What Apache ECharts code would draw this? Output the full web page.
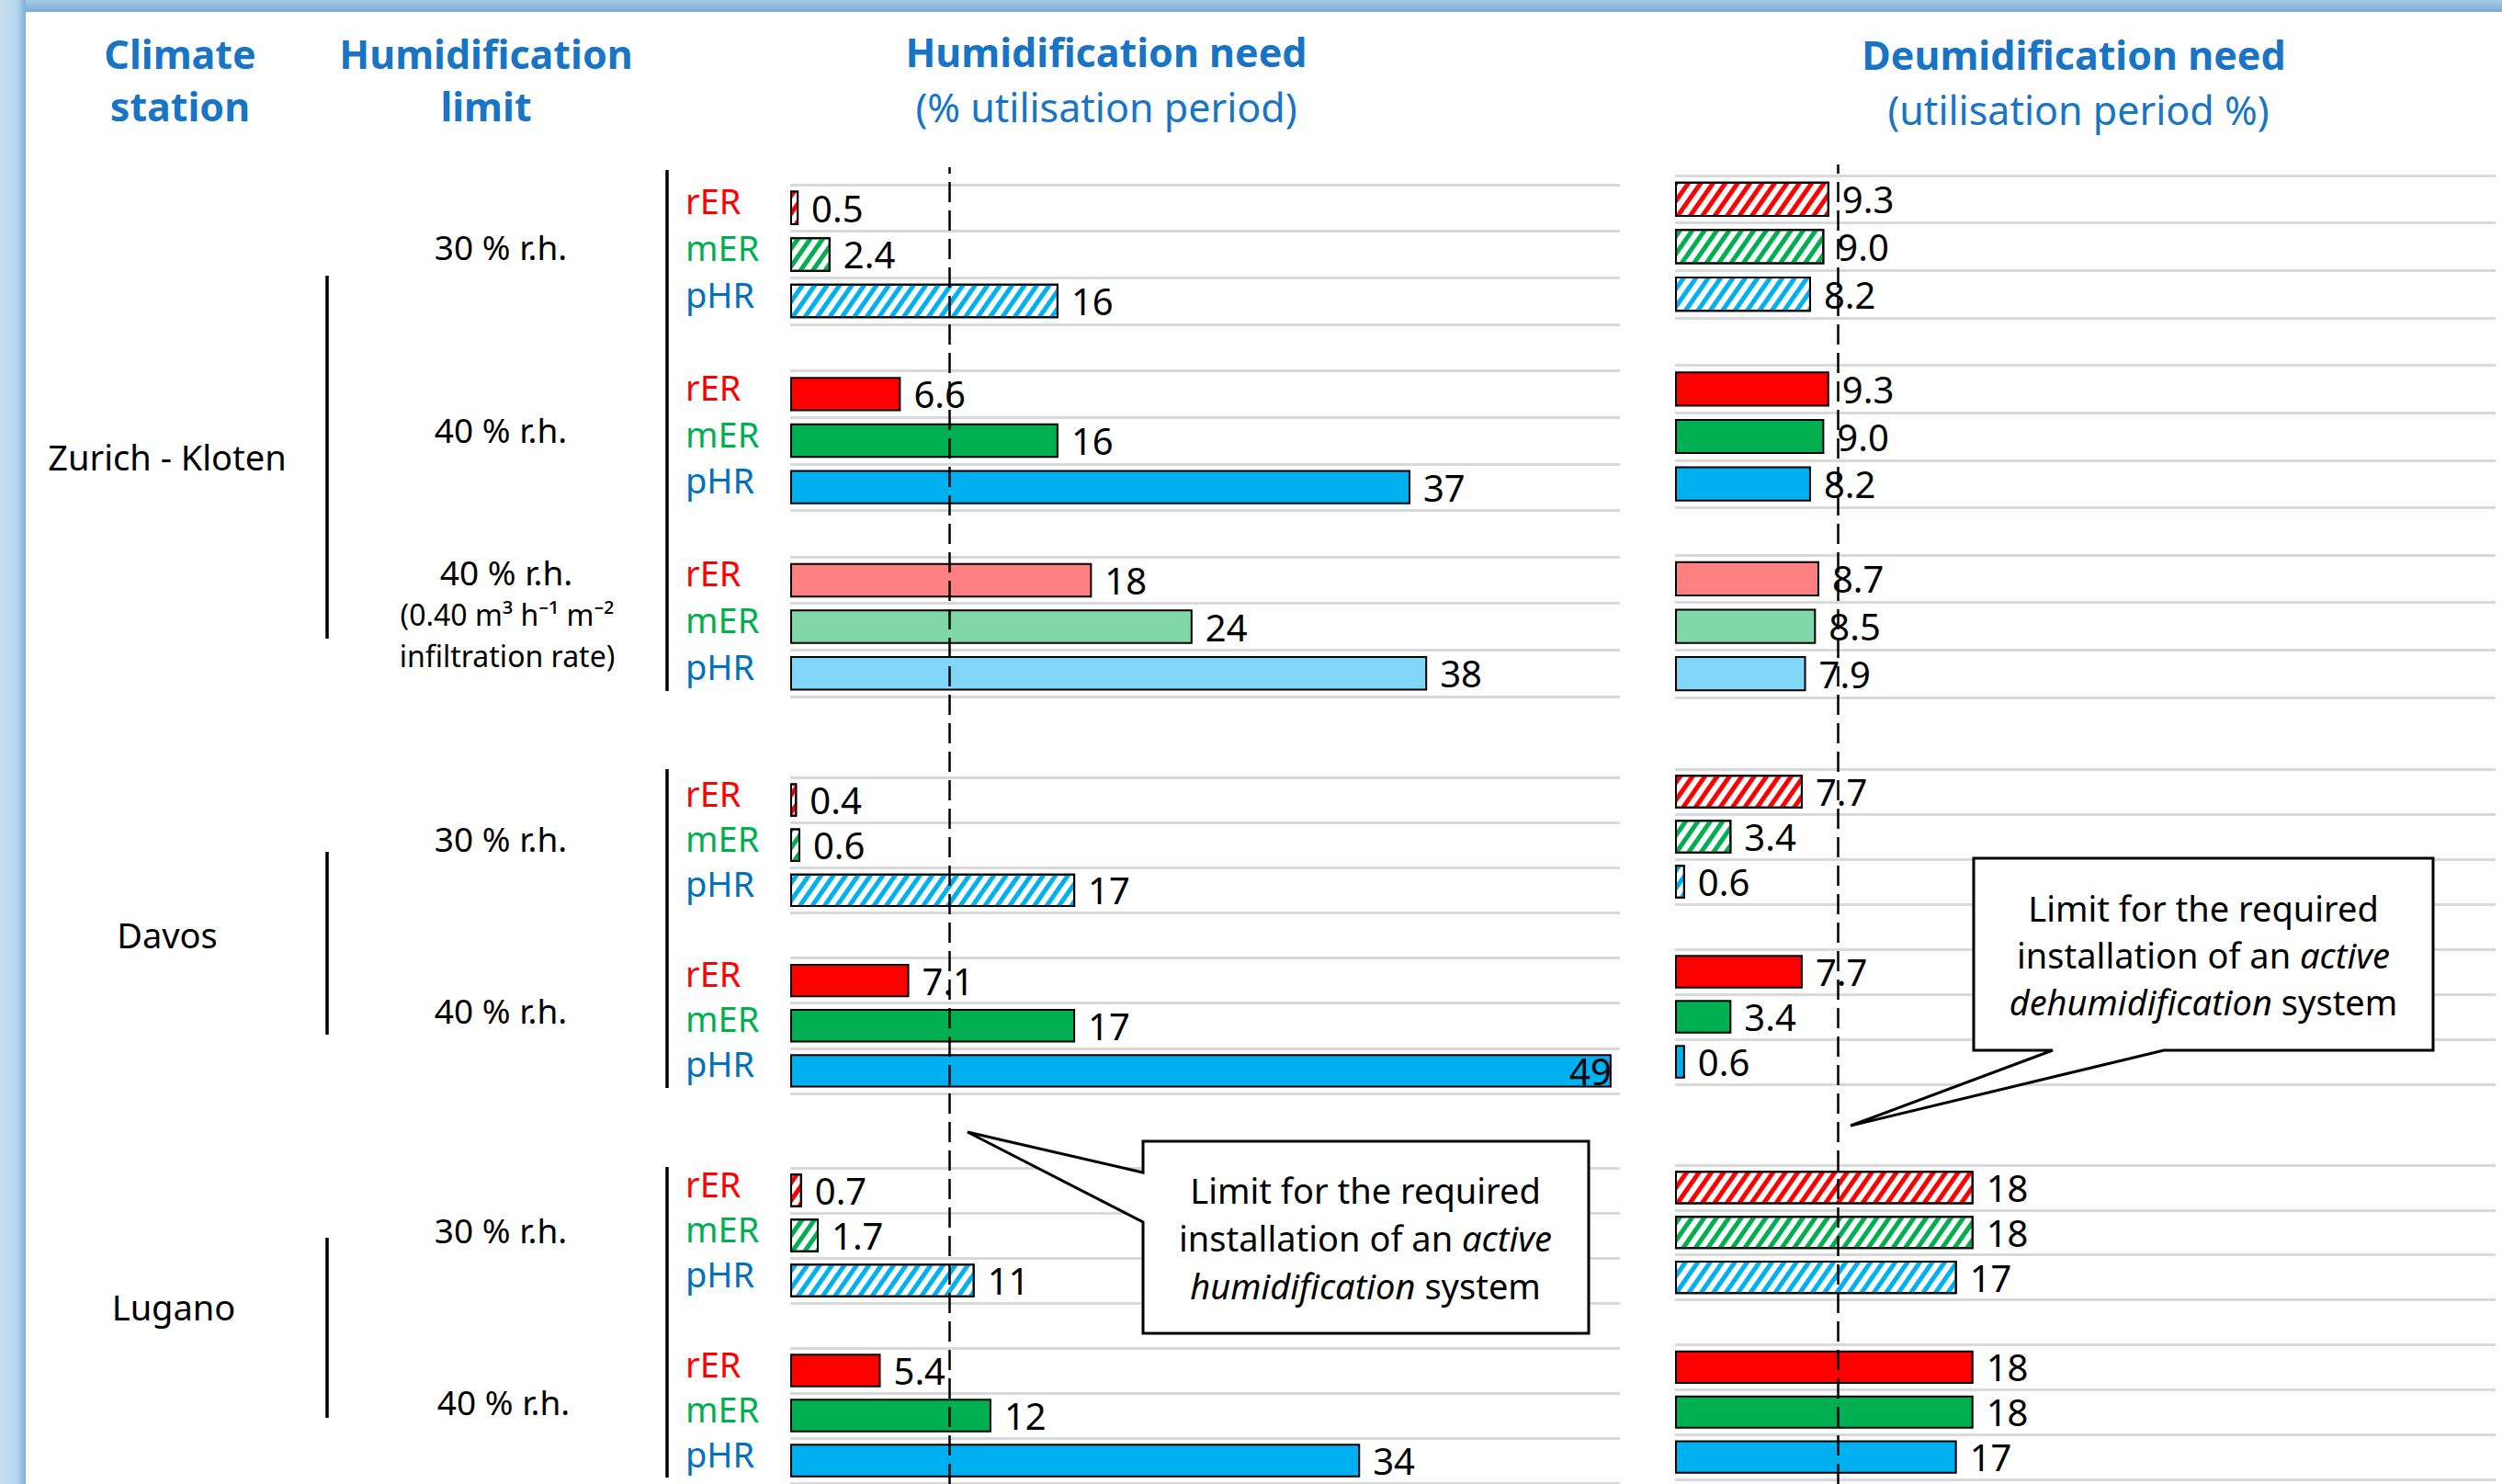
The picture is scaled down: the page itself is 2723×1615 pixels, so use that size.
<!DOCTYPE html>
<html>
<head>
<meta charset="utf-8">
<title>Humidification and dehumidification need</title>
<script src="https://cdn.jsdelivr.net/npm/echarts@6/dist/echarts.min.js"></script>
<style>
  html, body { margin: 0; padding: 0; background: #ffffff; }
  #chart { width: 2723px; height: 1615px; }
</style>
</head>
<body>
<div id="chart"></div>
<script>
// Systems compared inside each humidification-limit block
const systems = ['rER', 'mER', 'pHR'];
const stations = ['Zurich - Kloten', 'Davos', 'Lugano'];

// Humidification need (% of utilisation period)
const humZurich30 = [0.5, 2.4, 16];
const humZurich40 = [6.6, 16, 37];
const humZurich40Inf = [18, 24, 38];
const humDavos30 = [0.4, 0.6, 17];
const humDavos40 = [7.1, 17, 49];
const humLugano30 = [0.7, 1.7, 11];
const humLugano40 = [5.4, 12, 34];

// Dehumidification need (% of utilisation period)
const dehZurich30 = [9.3, 9.0, 8.2];
const dehZurich40 = [9.3, 9.0, 8.2];
const dehZurich40Inf = [8.7, 8.5, 7.9];
const dehDavos30 = [7.7, 3.4, 0.6];
const dehDavos40 = [7.7, 3.4, 0.6];
const dehLugano30 = [18, 18, 17];
const dehLugano40 = [18, 18, 17];

// Limits above which an active system is required
const humLimit = 9.5;
const dehumLimit = 9.8;
const xMax = 49.5;

// Block structure: 30 % r.h. (hatched), 40 % r.h. (solid), 40 % r.h. with infiltration (light)
const stationBlocks = [
  { kinds: ['hatch', 'solid', 'light'], hum: [humZurich30, humZurich40, humZurich40Inf], deh: [dehZurich30, dehZurich40, dehZurich40Inf] },
  { kinds: ['hatch', 'solid'], hum: [humDavos30, humDavos40], deh: [dehDavos30, dehDavos40] },
  { kinds: ['hatch', 'solid'], hum: [humLugano30, humLugano40], deh: [dehLugano30, dehLugano40] }
];

const F = "'Noto Sans', 'DejaVu Sans', sans-serif";
const HEAD = '#1874C4';
const solidColors = ['#FF0000', '#00B050', '#00B0F0'];
const lightColors = ['#FF8080', '#80D7A8', '#80D7F7'];
const labelColors = ['#FF0000', '#00B050', '#0070C0'];

const panels = {
  hum: { key: 'hum', left: 860, width: 903, limit: humLimit, limitTop: 182, labels: true,
         rows: [[201, 557], [846, 344], [1271, 343]] },
  deh: { key: 'deh', left: 1823, width: 893, limit: dehumLimit, limitTop: 179, labels: false,
         rows: [[191, 568], [837, 343], [1268, 342]] }
};

function fmt(v) { return v < 10 ? v.toFixed(1) : String(Math.round(v)); }

function makeItem(value, kind, j) {
  const item = { value: value };
  if (kind === 'hatch') {
    item.itemStyle = {
      color: '#ffffff',
      decal: {
        symbol: 'rect', symbolSize: 1,
        dashArrayX: [1, 0], dashArrayY: [5, 6],
        rotation: -Math.PI * 55 / 180,
        color: solidColors[j]
      }
    };
  } else {
    item.itemStyle = { color: kind === 'solid' ? solidColors[j] : lightColors[j] };
  }
  // a value reaching the end of the axis keeps its label inside the bar
  if (value > xMax - 3) item.label = { position: 'insideRight', distance: 0 };
  return item;
}

const grids = [], xAxes = [], yAxes = [], series = [];

function addPanel(side, sIdx) {
  const block = stationBlocks[sIdx];
  const [top, height] = side.rows[sIdx];
  const gi = grids.length;
  grids.push({ left: side.left, top: top, width: side.width, height: height, outerBoundsMode: 'none' });
  xAxes.push({ gridIndex: gi, type: 'value', min: 0, max: xMax, show: false });
  const cats = [], items = [];
  block.kinds.forEach((kind, b) => {
    if (b > 0) { cats.push(''); items.push('-'); }
    const vals = block[side.key][b];
    systems.forEach((sys, j) => { cats.push(sys); items.push(makeItem(vals[j], kind, j)); });
  });
  yAxes.push({
    gridIndex: gi, type: 'category', inverse: true, data: cats,
    axisLine: { show: false }, axisTick: { show: false },
    axisLabel: side.labels ? {
      show: true, interval: 0, align: 'left', margin: 114,
      padding: [0, 0, 16, 0],
      formatter: v => v ? '{' + v.charAt(0) + '|' + v + '}' : '',
      rich: {
        r: { color: labelColors[0], fontSize: 38, fontFamily: F, lineHeight: 40 },
        m: { color: labelColors[1], fontSize: 38, fontFamily: F, lineHeight: 40 },
        p: { color: labelColors[2], fontSize: 38, fontFamily: F, lineHeight: 40 }
      }
    } : { show: false },
    splitLine: { show: true, interval: 0, lineStyle: { color: '#D9D9D9', width: 3 } }
  });
  series.push({
    type: 'bar', xAxisIndex: gi, yAxisIndex: gi, data: items, barWidth: '74%',
    silent: true,
    itemStyle: { borderColor: '#000000', borderWidth: 2 },
    label: {
      show: true, position: 'right', distance: 14, color: '#000000',
      fontFamily: F, fontSize: 40, lineHeight: 40,
      formatter: p => fmt(p.value)
    }
  });
}

function addLimit(side) {
  const gi = grids.length;
  grids.push({ left: side.left, top: side.limitTop, width: side.width, height: 1615 - side.limitTop, outerBoundsMode: 'none' });
  xAxes.push({ gridIndex: gi, type: 'value', min: 0, max: xMax, show: false });
  yAxes.push({ gridIndex: gi, type: 'category', data: ['limit'], show: false });
  series.push({
    type: 'bar', xAxisIndex: gi, yAxisIndex: gi, data: [], z: 10, silent: true,
    markLine: {
      silent: true, symbol: 'none', label: { show: false },
      lineStyle: { color: '#000000', width: 2.5, type: [22, 9] },
      data: [{ xAxis: side.limit }]
    }
  });
}

[0, 1, 2].forEach(s => addPanel(panels.hum, s));
[0, 1, 2].forEach(s => addPanel(panels.deh, s));
addLimit(panels.hum);
addLimit(panels.deh);

// ---- annotations ----
function txt(x, y, text, size, extra) {
  return {
    type: 'text', x: x, y: y, z: 60,
    style: Object.assign({
      text: text, fill: '#000000', fontSize: size, fontFamily: F,
      align: 'center', verticalAlign: 'middle'
    }, extra || {})
  };
}
function vline(x, y1, y2) {
  return { type: 'line', z: 60, shape: { x1: x, y1: y1, x2: x, y2: y2 },
           style: { stroke: '#000000', lineWidth: 3.5 } };
}

const headBold = { fill: HEAD, fontWeight: 'bold' };
const headNorm = { fill: HEAD };

const graphics = [
  // frame edges
  { type: 'rect', z: 70, shape: { x: 0, y: 0, width: 2723, height: 13 },
    style: { fill: new echarts.graphic.LinearGradient(0, 0, 0, 1, [
      { offset: 0, color: '#A9CBE7' }, { offset: 1, color: '#79AED5' }]) } },
  { type: 'rect', z: 71, shape: { x: 0, y: 0, width: 28, height: 1615 },
    style: { fill: new echarts.graphic.LinearGradient(0, 0, 1, 0, [
      { offset: 0, color: '#C6DEF1' }, { offset: 0.65, color: '#B7D5EE' }, { offset: 1, color: '#7CB1D8' }]) } },

  // column headers
  txt(196, 58, 'Climate', 43, headBold),
  txt(196, 115, 'station', 43, headBold),
  txt(529, 58, 'Humidification', 43, headBold),
  txt(529, 115, 'limit', 43, headBold),
  txt(1204, 56, 'Humidification need', 43, headBold),
  txt(1204, 116, '(% utilisation period)', 43, headNorm),
  txt(2257, 59, 'Deumidification need', 43, headBold),
  txt(2262, 119, '(utilisation period %)', 43, headNorm),

  // climate stations
  txt(182, 497, stations[0], 38),
  txt(182, 1017, stations[1], 38),
  txt(189, 1422, stations[2], 38),

  // humidification limits
  txt(545, 268, '30 % r.h.', 37),
  txt(545, 467, '40 % r.h.', 37),
  txt(551, 622, '40 % r.h.', 37),
  txt(552, 668, '(0.40 m\u00B3 h\u207B\u00B9 m\u207B\u00B2', 32),
  txt(552, 713, 'infiltration rate)', 32),
  txt(545, 912, '30 % r.h.', 37),
  txt(545, 1099, '40 % r.h.', 37),
  txt(545, 1338, '30 % r.h.', 37),
  txt(548, 1525, '40 % r.h.', 37),

  // brackets
  vline(356, 300, 695), vline(356, 927, 1126), vline(356, 1347, 1543),
  vline(726, 185, 752), vline(726, 837, 1184), vline(726, 1270, 1608),

  // callout: humidification limit
  { type: 'polygon', z: 55,
    shape: { points: [[1244, 1242], [1729, 1242], [1729, 1451], [1244, 1451], [1244, 1330], [1053, 1232], [1244, 1276]] },
    style: { fill: '#ffffff', stroke: '#000000', lineWidth: 3 } },
  txt(1486, 1347, 'Limit for the required\ninstallation of an {i|active}\n{i|humidification} system', 38, {
    lineHeight: 52,
    rich: { i: { fontStyle: 'italic', fontSize: 38, fontFamily: F, lineHeight: 52 } }
  }),

  // callout: dehumidification limit
  { type: 'polygon', z: 55,
    shape: { points: [[2148, 934], [2648, 934], [2648, 1143], [2355, 1143], [2014, 1225], [2234, 1143], [2148, 1143]] },
    style: { fill: '#ffffff', stroke: '#000000', lineWidth: 3 } },
  txt(2398, 1039, 'Limit for the required\ninstallation of an {i|active}\n{i|dehumidification} system', 38, {
    lineHeight: 51,
    rich: { i: { fontStyle: 'italic', fontSize: 38, fontFamily: F, lineHeight: 51 } }
  })
];

const chart = echarts.init(document.getElementById('chart'), null, { renderer: 'svg', width: 2723, height: 1615 });
chart.setOption({
  backgroundColor: '#ffffff',
  animation: false,
  textStyle: { fontFamily: F },
  grid: grids,
  xAxis: xAxes,
  yAxis: yAxes,
  series: series,
  graphic: graphics
});
</script>
</body>
</html>
